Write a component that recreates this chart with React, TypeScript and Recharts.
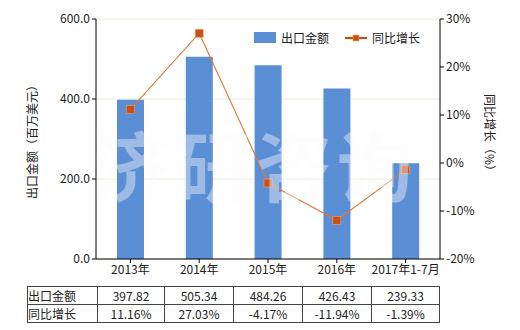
import { ComposedChart, Bar, Line, XAxis, YAxis, CartesianGrid } from "recharts";

const years = ["2013年", "2014年", "2015年", "2016年", "2017年1-7月"];
const exportValue = [397.82, 505.34, 484.26, 426.43, 239.33];
const growth = [11.16, 27.03, -4.17, -11.94, -1.39];
const leftTicks = [0, 200, 400, 600];
const rightTicks = [-20, -10, 0, 10, 20, 30];

const data = years.map((year, i) => ({
  year,
  value: exportValue[i],
  growth: growth[i],
}));

const FONT = '"Noto Sans CJK SC", "Noto Sans", sans-serif';
const BAR = "#5a8ed5";
const LINE = "#ea7630";
const DOT = "#c8501a";

const SquareDot = (props: any) => {
  const { cx, cy } = props;
  if (cx == null || cy == null) return null;
  return <rect x={cx - 4} y={cy - 4} width={8} height={8} fill={DOT} stroke="#f3a35f" strokeWidth={0.6} />;
};

const cellStyle: React.CSSProperties = {
  border: "1px solid #444",
  padding: 0,
  height: 17,
  textAlign: "center",
  fontSize: 12,
  color: "#222",
};

export default function App() {
  return (
    <div style={{ position: "absolute", left: 0, top: 0, width: 520, height: 330, background: "#fff", fontFamily: FONT }}>
      <ComposedChart
        width={520}
        height={330}
        data={data}
        margin={{ top: 19, right: 0, bottom: 51, left: 0 }}
      >
        <CartesianGrid vertical={false} stroke="#ebebdc" yAxisId="left" />
        <XAxis
          dataKey="year"
          stroke="#000"
          tickSize={4}
          height={20}
          tick={{ fill: "#222", fontSize: 12, fontFamily: FONT }}
          interval={0}
        />
        <YAxis
          yAxisId="left"
          domain={[0, 600]}
          ticks={leftTicks}
          width={96}
          stroke="#000"
          tickSize={4}
          tickFormatter={(v: number) => v.toFixed(1)}
          tick={{ fill: "#222", fontSize: 12, fontFamily: FONT }}
          label={{ value: "出口金额（百万美元）", angle: -90, position: "center", dx: -15, fill: "#222", fontSize: 12, fontFamily: FONT }}
        />
        <YAxis
          yAxisId="right"
          orientation="right"
          domain={[-20, 30]}
          ticks={rightTicks}
          width={80}
          stroke="#000"
          tickSize={4}
          tickFormatter={(v: number) => `${v}%`}
          tick={{ fill: "#222", fontSize: 12, fontFamily: FONT }}
        />
        <Bar yAxisId="left" dataKey="value" fill={BAR} barSize={27} isAnimationActive={false} />
        <Line
          yAxisId="right"
          dataKey="growth"
          stroke={LINE}
          strokeWidth={1.1}
          dot={<SquareDot />}
          activeDot={false}
          isAnimationActive={false}
        />
      </ComposedChart>

      {/* watermark */}
      <svg width={520} height={330} style={{ position: "absolute", left: 0, top: 0, pointerEvents: "none" }}>
        <text
          x={94}
          y={196}
          textAnchor="start"
          fontSize={76}
          fontWeight="bold"
          fontFamily={FONT}
          fill="#fafafa"
          fillOpacity={0.42}
          letterSpacing={5}
        >
          济研咨询
        </text>
      </svg>

      {/* right axis title, sideways text reading top to bottom */}
      <div
        style={{
          position: "absolute",
          left: 483,
          top: 94,
          writingMode: "vertical-rl",
          textOrientation: "sideways",
          fontSize: 12,
          lineHeight: "14px",
          color: "#222",
          whiteSpace: "nowrap",
        }}
      >
        同比增长（%）
      </div>

      {/* legend */}
      <div style={{ position: "absolute", left: 254, top: 29, display: "flex", alignItems: "center", fontSize: 12, color: "#222" }}>
        <span style={{ width: 22, height: 11, background: BAR, display: "inline-block" }} />
        <span style={{ marginLeft: 5 }}>出口金额</span>
        <svg width={22} height={12} style={{ marginLeft: 16 }}>
          <line x1={0} y1={6} x2={22} y2={6} stroke="#c0500f" strokeWidth={2.2} />
          <rect x={8} y={3} width={6} height={6} fill={DOT} stroke="#f3a35f" strokeWidth={0.6} />
        </svg>
        <span style={{ marginLeft: 5 }}>同比增长</span>
      </div>

      {/* data table */}
      <table
        style={{
          position: "absolute",
          left: 27,
          top: 286,
          borderCollapse: "collapse",
          tableLayout: "fixed",
          width: 412,
          fontFamily: FONT,
        }}
      >
        <colgroup>
          <col style={{ width: 70 }} />
          <col style={{ width: 67 }} />
          <col style={{ width: 69 }} />
          <col style={{ width: 69 }} />
          <col style={{ width: 69 }} />
          <col style={{ width: 68 }} />
        </colgroup>
        <tbody>
          <tr>
            <td style={{ ...cellStyle, textAlign: "left" }}>出口金额</td>
            {exportValue.map((v, i) => (
              <td key={i} style={cellStyle}>{v.toFixed(2)}</td>
            ))}
          </tr>
          <tr>
            <td style={{ ...cellStyle, textAlign: "left" }}>同比增长</td>
            {growth.map((v, i) => (
              <td key={i} style={cellStyle}>{v.toFixed(2)}%</td>
            ))}
          </tr>
        </tbody>
      </table>
    </div>
  );
}
